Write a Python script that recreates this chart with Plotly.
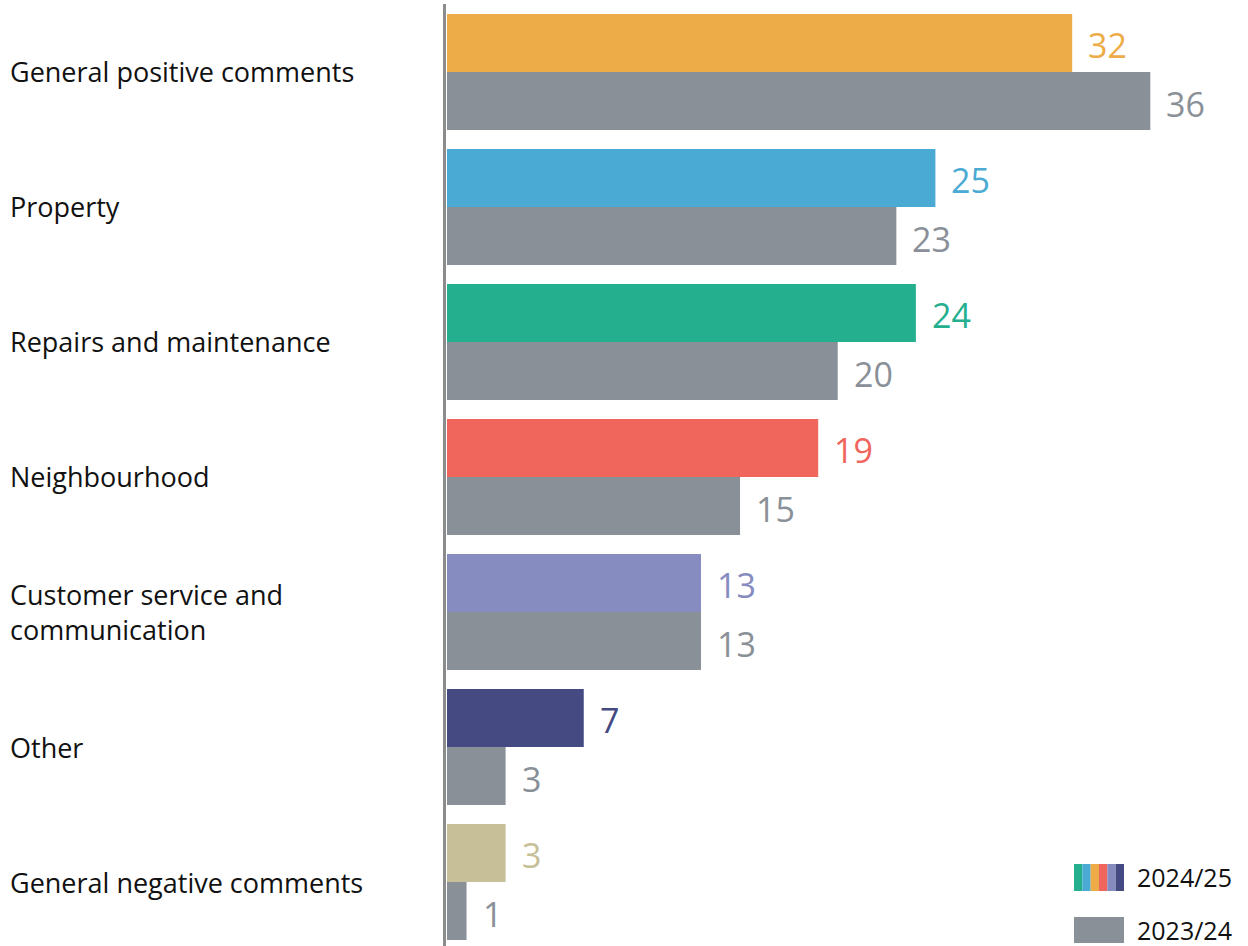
import plotly.graph_objects as go

# Comment themes, current vs previous year (number of comments)
categories = [
    "General positive comments",
    "Property",
    "Repairs and maintenance",
    "Neighbourhood",
    "Customer service and communication",
    "Other",
    "General negative comments",
]
category_labels = [
    "General positive comments",
    "Property",
    "Repairs and maintenance",
    "Neighbourhood",
    "Customer service and<br>communication",
    "Other",
    "General negative comments",
]
values_2024_25 = [32, 25, 24, 19, 13, 7, 3]
values_2023_24 = [36, 23, 20, 15, 13, 3, 1]
series_names = ["2024/25", "2023/24"]

theme_colors = ["#EDAC47", "#4BAAD3", "#24AF8F", "#F0655C", "#868BC0", "#454A82", "#C6BF98"]
prev_color = "#8A9097"
legend_stripes = ["#24AF8F", "#4BAAD3", "#EDAC47", "#F0655C", "#868BC0", "#454A82"]

W, H = 1248, 946
L = 447
FONT = "Open Sans, Noto Sans, sans-serif"


def px_x(p):
    return (p - L) / (W - L)


def px_y(p):
    return 1 - p / H


fig = go.Figure()
fig.add_trace(go.Bar(
    y=categories, x=values_2024_25, orientation="h", name=series_names[0],
    marker=dict(color=theme_colors, line=dict(width=0)),
    showlegend=False, hoverinfo="x+y",
))
fig.add_trace(go.Bar(
    y=categories, x=values_2023_24, orientation="h", name=series_names[1],
    marker=dict(color=prev_color, line=dict(width=0)),
    showlegend=False, hoverinfo="x+y",
))

annotations = []
# value labels beside each bar
for cat, v, c in zip(categories, values_2024_25, theme_colors):
    annotations.append(dict(x=v, y=cat, text=str(v), xanchor="left", yanchor="middle",
                            xshift=14, yshift=27, showarrow=False,
                            font=dict(family=FONT, size=34, color=c)))
for cat, v in zip(categories, values_2023_24):
    annotations.append(dict(x=v, y=cat, text=str(v), xanchor="left", yanchor="middle",
                            xshift=14, yshift=-32, showarrow=False,
                            font=dict(family=FONT, size=34, color=prev_color)))
# category labels, left aligned at the page edge
for cat, lab in zip(categories, category_labels):
    annotations.append(dict(x=px_x(8), xref="paper", y=cat, text=lab, xanchor="left",
                            yanchor="middle", align="left", showarrow=False,
                            font=dict(family=FONT, size=27, color="#111111")))

shapes = [
    # vertical axis line
    dict(type="line", xref="paper", yref="paper", x0=px_x(444.5), x1=px_x(444.5),
         y0=0, y1=px_y(4), line=dict(color="#8C8C8C", width=3)),
]
# legend swatches
sx0, sx1 = 1074, 1124
sw = (sx1 - sx0) / len(legend_stripes)
for i, c in enumerate(legend_stripes):
    shapes.append(dict(type="rect", xref="paper", yref="paper",
                       x0=px_x(sx0 + i * sw), x1=px_x(sx0 + (i + 1) * sw),
                       y0=px_y(891), y1=px_y(864), fillcolor=c, line=dict(width=0)))
shapes.append(dict(type="rect", xref="paper", yref="paper",
                   x0=px_x(sx0), x1=px_x(sx1), y0=px_y(943), y1=px_y(917),
                   fillcolor=prev_color, line=dict(width=0)))
for name, cy in zip(series_names, [877, 930]):
    annotations.append(dict(x=px_x(1135), xref="paper", y=px_y(cy), yref="paper",
                            text=name, xanchor="left", yanchor="middle", showarrow=False,
                            font=dict(family=FONT, size=25, color="#111111")))

fig.update_layout(
    width=W, height=H,
    margin=dict(l=L, r=0, t=0, b=0),
    paper_bgcolor="white", plot_bgcolor="white",
    barmode="group", bargap=0.14, bargroupgap=0,
    xaxis=dict(range=[0, 41], visible=False, fixedrange=True),
    yaxis=dict(type="category", categoryarray=categories, range=[6.474, -0.533],
               showticklabels=False, showgrid=False, zeroline=False, showline=False,
               ticks="", fixedrange=True),
    annotations=annotations,
    shapes=shapes,
    font=dict(family=FONT),
)

fig.write_html("out.html")
